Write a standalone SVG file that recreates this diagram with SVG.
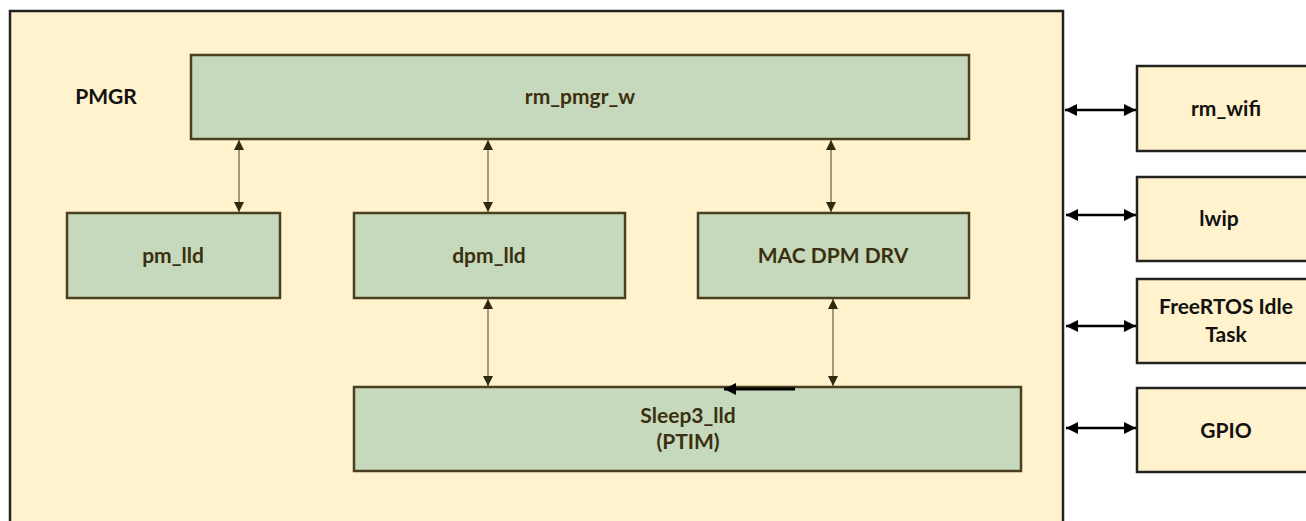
<svg xmlns="http://www.w3.org/2000/svg" width="1306" height="521" viewBox="0 0 1306 521">
<defs>
<marker id="ah" viewBox="0 0 10 10" refX="10" refY="5" markerWidth="10" markerHeight="10" markerUnits="userSpaceOnUse" orient="auto-start-reverse"><path d="M0,0 L10,5 L0,10 z" fill="#2e2a10"/></marker>
<marker id="ahb" viewBox="0 0 10 10" refX="10" refY="5" markerWidth="12" markerHeight="12" markerUnits="userSpaceOnUse" orient="auto-start-reverse"><path d="M0,0 L10,5 L0,10 z" fill="#000"/></marker>
</defs>
<style>
.g{fill:#c6d9bc;stroke:#4a4020;stroke-width:2.5}
.y{fill:#fff2cc;stroke:#222;stroke-width:2.5}
.t{font-family:Lato,"Liberation Sans",sans-serif;font-weight:bold;font-size:21px;text-anchor:middle;fill:#3a3010}
.tb{font-family:Lato,"Liberation Sans",sans-serif;font-weight:bold;font-size:21px;text-anchor:middle;fill:#111}
.c{stroke:#6b5d3a;stroke-width:1.2;fill:none;marker-start:url(#ah);marker-end:url(#ah)}
.e{stroke:#000;stroke-width:2.5;fill:none;marker-start:url(#ahb);marker-end:url(#ahb)}
</style>
<rect width="1306" height="521" fill="#fff"/>
<g id="pmgr">
<rect x="10" y="11" width="1053" height="520" class="y"/>
<text x="106" y="104" class="tb">PMGR</text>
</g>
<g id="rm_pmgr_w"><rect x="191" y="55" width="778" height="84" class="g"/><text x="580" y="104" class="t">rm_pmgr_w</text></g>
<g id="pm_lld"><rect x="67" y="213" width="213" height="85" class="g"/><text x="173" y="263" class="t">pm_lld</text></g>
<g id="dpm_lld"><rect x="354" y="213" width="271" height="85" class="g"/><text x="489" y="263" class="t">dpm_lld</text></g>
<g id="mac_dpm_drv"><rect x="698" y="213" width="271" height="85" class="g"/><text x="833" y="263" class="t">MAC DPM DRV</text></g>
<g id="sleep3_lld"><rect x="354" y="387" width="667" height="84" class="g"/><text x="688" y="423" class="t">Sleep3_lld</text><text x="688" y="449" class="t">(PTIM)</text></g>
<g id="rm_wifi"><rect x="1137" y="66" width="180" height="85" class="y"/><text x="1226" y="116" class="tb">rm_wifi</text></g>
<g id="lwip"><rect x="1137" y="177" width="180" height="84" class="y"/><text x="1219" y="226" class="tb">lwip</text></g>
<g id="freertos"><rect x="1137" y="279" width="180" height="84" class="y"/><text x="1226" y="314" class="tb">FreeRTOS Idle</text><text x="1226" y="342" class="tb">Task</text></g>
<g id="gpio"><rect x="1137" y="388" width="180" height="84" class="y"/><text x="1226" y="438" class="tb">GPIO</text></g>
<g id="connectors">
<line x1="239" y1="140" x2="239" y2="212" class="c"/>
<line x1="488" y1="140" x2="488" y2="212" class="c"/>
<line x1="831" y1="140" x2="831" y2="212" class="c"/>
<line x1="488" y1="299" x2="488" y2="386" class="c"/>
<line x1="833" y1="299" x2="833" y2="386" class="c"/>
<line x1="795" y1="389" x2="724" y2="389" stroke="#000" stroke-width="3" marker-end="url(#ahb)"/>
<line x1="1065" y1="110" x2="1136" y2="110" class="e"/>
<line x1="1066" y1="215" x2="1136" y2="215" class="e"/>
<line x1="1066" y1="326" x2="1136" y2="326" class="e"/>
<line x1="1066" y1="428" x2="1136" y2="428" class="e"/>
</g>
</svg>
